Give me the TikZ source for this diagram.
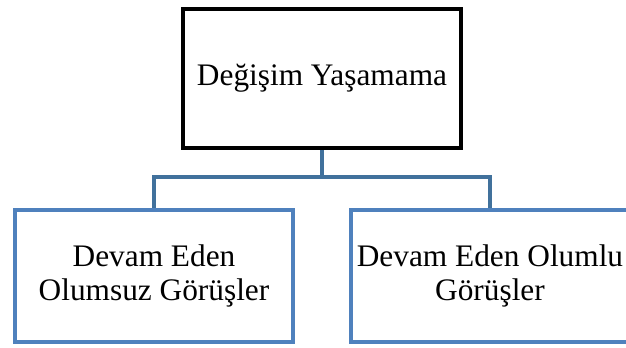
\documentclass[tikz,border=0pt]{standalone}
\usepackage{fontspec}
\setmainfont{Liberation Serif}
\definecolor{boxblue}{HTML}{4F81BD}
\definecolor{linkblue}{HTML}{41719C}
\begin{document}
\begin{tikzpicture}[x=0.75pt,y=-0.75pt,
	topbox/.style={draw=black,line width=3pt,minimum width=208.5pt,minimum height=104.25pt,inner sep=0pt,align=center,font=\fontsize{23.5}{25.5}\selectfont},
	subbox/.style={draw=boxblue,line width=3pt,minimum width=208.5pt,minimum height=99pt,inner sep=0pt,align=center,font=\fontsize{23.5}{25.5}\selectfont},
	link/.style={draw=linkblue,line width=3pt}]
			\useasboundingbox (0,0) rectangle (626,347);
			\clip (0,0) rectangle (626,347);
			% root and the two children
			\node[topbox] (top) at (322,78.5) {Değişim Yaşamama};
			\node[subbox] (neg) at (154,276) {Devam Eden\\Olumsuz Görüşler};
			\node[subbox] (pos) at (490,276) {Devam Eden Olumlu\\Görüşler};
			% connectors
			\coordinate (bus) at (322,177);
			\draw[link] (top.south) -- (bus) -| (neg.north);
			\draw[link] (bus) -| (pos.north);
			\end{tikzpicture}
\end{document}
